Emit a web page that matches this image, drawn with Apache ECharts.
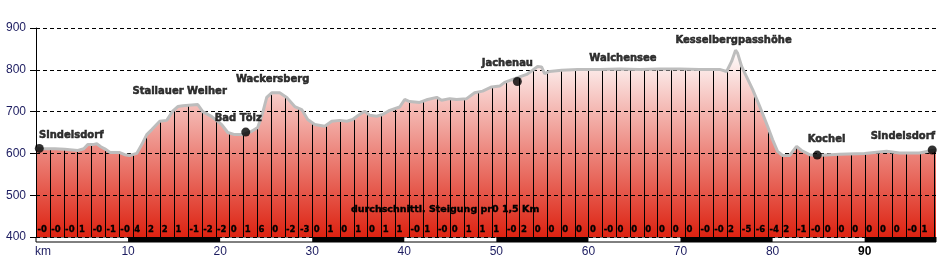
<!DOCTYPE html>
<html><head><meta charset="utf-8">
<script src="https://cdn.jsdelivr.net/npm/echarts@6.0.0/dist/echarts.min.js"></script>
<style>html,body{margin:0;padding:0;background:#fff}#c{width:942px;height:261px}</style>
</head><body><div id="c"></div>
<script>
// ---- data ----
const profileKm = [0, 0.41, 2.04, 3.13, 3.67, 4.54, 5.19, 5.62, 6.17, 6.6, 7.04, 7.47, 8.04, 9.1, 9.64, 10.18, 10.94, 11.49, 12.03, 12.58, 13.44, 14.2, 14.85, 15.4, 15.95, 17.57, 18.11, 19.09, 20.17, 20.83, 21.58, 22.45, 23.43, 24.08, 24.63, 25.06, 25.6, 26.47, 27.23, 28.1, 28.86, 29.51, 30.27, 31.36, 32.12, 32.99, 33.75, 34.4, 34.94, 35.7, 36.24, 37, 37.65, 38.41, 39.5, 40.04, 40.58, 41.67, 42.54, 43.52, 44.06, 44.93, 45.69, 46.77, 47.64, 48.51, 49.49, 50.36, 50.9, 51.77, 53.29, 53.94, 54.48, 54.91, 55.24, 55.78, 57.08, 58.83, 61.21, 63.39, 65.56, 67.73, 69.9, 72.07, 74.25, 75.01, 75.55, 75.98, 76.2, 76.64, 76.96, 77.83, 78.59, 79.46, 80, 80.54, 81.09, 81.85, 82.61, 83.15, 84.02, 84.85, 87.27, 89.99, 92.38, 93.79, 95.96, 97.34, 97.75];
const profileElev = [611, 611, 611, 610, 609, 607, 611, 621, 621, 623, 616, 611, 602, 602, 597, 595, 600, 621, 645, 657, 677, 679, 701, 712, 714, 717, 700, 688, 669, 650, 645, 645, 653, 662, 698, 734, 745, 745, 734, 712, 705, 681, 669, 665, 677, 679, 677, 681, 690, 701, 691, 689, 693, 703, 711, 729, 724, 722, 729, 734, 727, 731, 729, 731, 745, 749, 759, 761, 770, 777, 789, 799, 808, 807, 791, 796, 799, 801, 801, 802, 801, 802, 802, 801, 801, 796, 820, 847, 840, 808, 793, 753, 713, 665, 633, 605, 595, 595, 617, 607, 597, 595, 598, 600, 605, 601, 601, 607, 608];
const segmentKm = 1.5;
const segmentHeights = [611,611,610,607,621,611,602,597,644,677,704,715,703,681,649,645,661,743,738,708,673,667,679,683,695,692,707,725,725,734,731,730,747,759,771,782,800,794,799,800,800,801,801,801,801,802,802,801,800,800,797,818,745,663,596,613,597,596,597,599,600,603,603,601,601,608];
const gradients = ["-0","-0","-0","1","-0","-1","-0","4","2","2","1","-1","-2","-2","0","1","6","0","-2","-3","0","1","0","1","0","1","1","-0","1","-0","0","1","1","1","-0","2","0","0","0","0","0","-0","0","0","0","0","0","0","-0","-0","2","-5","-6","-4","2","-1","-0","0","0","0","0","0","0","-0","1"];
const placeNames = ["Sindelsdorf","Stallauer Weiher","Bad Tölz","Wackersberg","Jachenau","Walchensee","Kesselbergpasshöhe","Kochel","Sindelsdorf "];
const placeKm = [0.36, 15.6, 22.78, 25.7, 52.28, 63.75, 75.95, 84.85, 97.34];
const placeElev = [612, 716, 651, 745, 772, 801, 847, 596, 608];
const placeHasDot = [true, false, true, false, true, false, false, true, true];
const xTickLabels = ["km","10","20","30","40","50","60","70","80","90"];
const yMin = 400, yMax = 900, yStep = 100;
const kmMax = 97.75;
const noteText = "durchschnittl. Steigung pr0 1,5 Km";

// ---- styling ----
const labelOffsets = {
  "Sindelsdorf":[32,-12.8], "Stallauer Weiher":[0,-13.6], "Bad Tölz":[-7.5,-13.3],
  "Wackersberg":[0,-13.5], "Jachenau":[-10,-17.6], "Walchensee":[0,-10.6],
  "Kesselbergpasshöhe":[-1.7,-10.1], "Kochel":[9.3,-15.6], "Sindelsdorf ":[-29.4,-13.2]
};
const LBL_FONT = '"DejaVu Sans", Verdana, sans-serif';
const AX_FONT = '"Liberation Sans", Arial, sans-serif';
const AX_COLOR = '#1c1c60';

const profile = profileKm.map((k,i)=>[k, profileElev[i]]);
const segs = segmentHeights.map((h,i)=>[i*segmentKm, h]);
const gradPts = gradients.map((g,i)=>[i*segmentKm, yMin]);
function placeItems(withDot){
  const out=[];
  placeNames.forEach((n,i)=>{
    if(placeHasDot[i]!==withDot) return;
    const o = labelOffsets[n];
    out.push({name:n.trim(), value:[placeKm[i], placeElev[i]], label:{offset:o}});
  });
  return out;
}
const labelCommon = {show:true, position:'inside', formatter:p=>p.name, color:'#000',
  fontFamily:LBL_FONT, fontWeight:'bold', fontSize:10, textBorderColor:'#000', textBorderWidth:0.5};

const chart = echarts.init(document.getElementById('c'), null, {renderer:'canvas'});
chart.setOption({
  animation:false,
  grid:[
    {left:36, right:6, top:28, height:209, show:false},
    {left:36, right:6, top:237, height:5, show:true, borderColor:'#000', borderWidth:1, backgroundColor:'rgba(0,0,0,0)'}
  ],
  xAxis:[
    {type:'value', gridIndex:0, min:0, max:kmMax, show:false},
    {type:'value', gridIndex:1, min:0, max:kmMax, interval:10,
      axisLine:{show:false}, axisTick:{show:false}, splitLine:{show:false},
      splitArea:{show:true, areaStyle:{color:['rgba(255,255,255,0)','#000000']}},
      axisLabel:{show:true, margin:4, showMinLabel:true, showMaxLabel:false,
        fontFamily:AX_FONT, fontSize:12, color:AX_COLOR,
        formatter:v=>{ const i=Math.round(v/10); if(Math.abs(v-i*10)>1e-6 || i>=xTickLabels.length) return '';
          const t=xTickLabels[i]; if(i===0) return '{km|'+t+'}'; if(i===xTickLabels.length-1) return '{b|'+t+'}'; return t; },
        rich:{km:{padding:[0,0,0,14], fontFamily:AX_FONT, fontSize:12, color:AX_COLOR},
              b:{fontWeight:'bold', fontFamily:AX_FONT, fontSize:12, color:'#000'}}}}
  ],
  yAxis:[
    {type:'value', gridIndex:0, min:yMin, max:yMax, interval:yStep, z:5,
      axisLine:{show:true, lineStyle:{color:'#000', width:1}},
      axisTick:{show:true, length:6, lineStyle:{color:'#000'}},
      splitLine:{show:true, lineStyle:{color:'#000', type:[4,3], width:1}},
      axisLabel:{margin:10, fontFamily:AX_FONT, fontSize:12, color:AX_COLOR, showMinLabel:true, showMaxLabel:true}},
    {type:'value', gridIndex:1, min:0, max:1, show:false}
  ],
  graphic:[{type:'text', x:351, y:209.7, z:10,
    style:{text:noteText, fill:'#000', stroke:'#000', lineWidth:0.4, font:'bold 9.5px '+LBL_FONT, align:'left', verticalAlign:'middle'}}],
  series:[
    {type:'line', xAxisIndex:0, yAxisIndex:0, z:1, data:profile, symbol:'none', smooth:false,
      lineStyle:{width:0, opacity:0},
      areaStyle:{opacity:1, color:new echarts.graphic.LinearGradient(0,0,0,1,[{offset:0,color:'#ffffff'},{offset:1,color:'#dd2211'}])}},
    {type:'custom', xAxisIndex:0, yAxisIndex:0, z:3, data:segs, silent:true,
      renderItem:(params, api)=>{
        const top=api.coord([api.value(0), api.value(1)]);
        const bot=api.coord([api.value(0), yMin]);
        const x=Math.round(top[0])+0.5;
        return {type:'line', shape:{x1:x, y1:top[1], x2:x, y2:bot[1]}, style:{stroke:'#000', lineWidth:1}};
      }},
    {type:'line', xAxisIndex:0, yAxisIndex:0, z:6, data:profile, symbol:'none', smooth:false,
      lineStyle:{color:'#bdbdbd', width:3}},
    {type:'custom', xAxisIndex:0, yAxisIndex:0, z:8, data:gradPts, silent:true,
      renderItem:(params, api)=>{
        const p=api.coord([api.value(0), api.value(1)]);
        return {type:'text', x:p[0]+1.5, y:p[1]-7,
          style:{text:gradients[params.dataIndex], fill:'#000', stroke:'#000', lineWidth:0.3, font:'bold 8.5px '+LBL_FONT, align:'left', verticalAlign:'middle'}};
      }},
    {type:'scatter', xAxisIndex:0, yAxisIndex:0, z:9, symbol:'circle', symbolSize:9,
      itemStyle:{color:'#000'}, label:labelCommon, data:placeItems(true)},
    {type:'scatter', xAxisIndex:0, yAxisIndex:0, z:9, symbol:'circle', symbolSize:1,
      itemStyle:{color:'rgba(0,0,0,0)'}, label:labelCommon, data:placeItems(false)}
  ]
});
</script></body></html>
